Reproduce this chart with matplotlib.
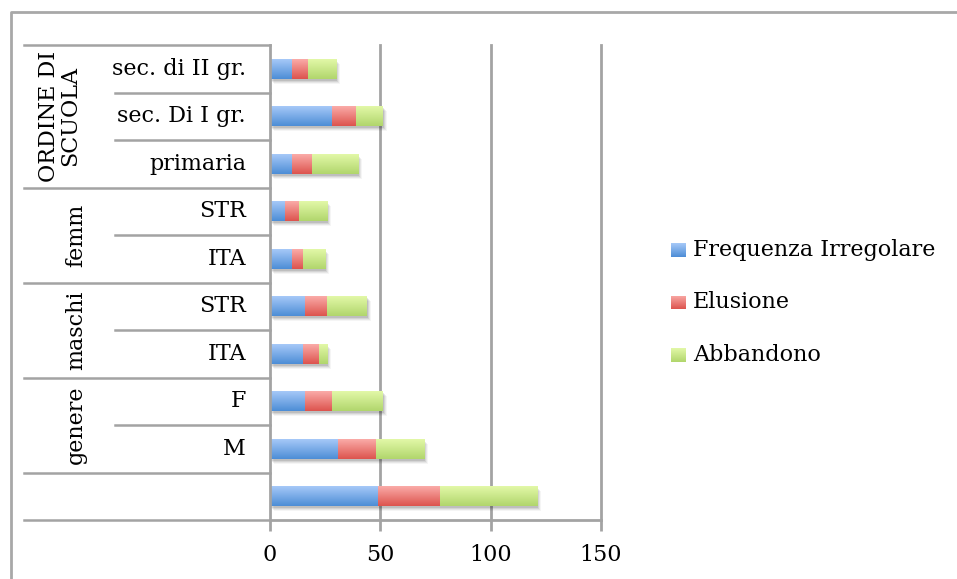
import numpy as np
import matplotlib
matplotlib.use("Agg")
import matplotlib.pyplot as plt
from matplotlib.colors import LinearSegmentedColormap
import matplotlib.transforms as mtransforms

# ---- data (bottom to top) ----
categories = ["", "M", "F", "ITA", "STR", "ITA", "STR",
              "primaria", "sec. Di I gr.", "sec. di II gr."]
groups = [("genere", 1, 2), ("maschi", 3, 4), ("femm", 5, 6),
          ("ORDINE DI\nSCUOLA", 7, 9)]
frequenza = [49, 31, 16, 15, 16, 10, 7, 10, 28, 10]
elusione = [28, 17, 12, 7, 10, 5, 6, 9, 11, 7]
abbandono = [44, 22, 23, 4, 18, 10, 13, 21, 12, 13]
series_names = ["Frequenza Irregolare", "Elusione", "Abbandono"]
xticks = [0, 50, 100, 150]

# colour gradients (top, bottom)
grad = [("#a6c9f8", "#4d8dd6"), ("#faaba8", "#dd544e"), ("#e2f8a8", "#b1d66c")]

FONT = "DejaVu Serif"
FS = 16
W, H = 957, 579
fig = plt.figure(figsize=(W / 100, H / 100), dpi=100)

def fx(px):
    return px / W

def fy(py):
    return 1 - py / H

ax = fig.add_axes([fx(270), fy(520), fx(601) - fx(270), fy(45) - fy(520)])
ax.set_xlim(0, 150)
ax.set_ylim(-0.5, len(categories) - 0.5)

GRID = "#a3a3a3"
for s in ["top", "right"]:
    ax.spines[s].set_visible(False)
for s in ["left", "bottom"]:
    ax.spines[s].set_color(GRID)
    ax.spines[s].set_linewidth(2)
ax.set_yticks([])
ax.set_xticks(xticks)
ax.set_xticklabels([str(t) for t in xticks], fontfamily=FONT, fontsize=FS)
ax.tick_params(axis="x", length=8, width=2, color=GRID, pad=9)
for t in xticks[1:]:
    ax.axvline(t, color=GRID, lw=2, zorder=0, clip_on=False)

y = np.arange(len(categories))
h = 0.42
series = [frequenza, elusione, abbandono]
lefts = np.zeros(len(categories))

# soft shadow under each full stacked bar
totals = np.sum(series, axis=0)
for k, a in enumerate([0.10, 0.08, 0.06, 0.04]):
    off = mtransforms.offset_copy(ax.transData, fig=fig, x=1 + k, y=-(2 + k), units="dots")
    ax.barh(y, totals, height=h, color="black", alpha=a, lw=0, transform=off, zorder=1)

gradimg = np.linspace(1, 0, 64).reshape(-1, 1)
for vals, (top, bot) in zip(series, grad):
    cmap = LinearSegmentedColormap.from_list("g", [bot, top])
    bars = ax.barh(y, vals, left=lefts, height=h, color="none", lw=0, zorder=3)
    for b in bars:
        x0, y0 = b.get_x(), b.get_y()
        ax.imshow(gradimg, cmap=cmap, aspect="auto",
                  extent=(x0, x0 + b.get_width(), y0, y0 + b.get_height()),
                  origin="upper", vmin=0, vmax=1, zorder=2)
    lefts = lefts + np.array(vals)
ax.set_xlim(0, 150)
ax.set_ylim(-0.5, len(categories) - 0.5)

# category table to the left of the axis
tr = mtransforms.blended_transform_factory(fig.transFigure, ax.transData)
outer = [-0.5, 0.5, 2.5, 4.5, 6.5, 9.5]
inner = [1.5, 3.5, 5.5, 7.5, 8.5]
for b in outer:
    fig.add_artist(plt.Line2D([fx(24), fx(270)], [b, b], transform=tr, color=GRID, lw=1.8))
for b in inner:
    fig.add_artist(plt.Line2D([fx(115), fx(270)], [b, b], transform=tr, color=GRID, lw=1.8))
for yi, lab in zip(y, categories):
    fig.text(fx(246), yi, lab, transform=tr, ha="right", va="center",
             fontfamily=FONT, fontsize=FS)
for name, lo, hi in groups:
    xc = 60 if "\n" in name else 76
    fig.text(fx(xc), (lo + hi) / 2, name, transform=tr, ha="center", va="center",
             rotation=90, fontfamily=FONT, fontsize=FS, multialignment="center",
             linespacing=0.95)

# outer chart frame (left and top edges)
fig.add_artist(plt.Line2D([fx(11), fx(11), fx(957)], [fy(579), fy(12), fy(12)],
                          transform=fig.transFigure, color="#a8a8a8", lw=2))

# legend keys with the same vertical gradient as the bars
for i, (name, (top, bot)) in enumerate(zip(series_names, grad)):
    cy = 250 + i * 52.5
    kax = fig.add_axes([fx(671), fy(cy + 7), fx(686) - fx(671), fy(cy - 7) - fy(cy + 7)])
    kax.imshow(gradimg, cmap=LinearSegmentedColormap.from_list("k", [bot, top]),
               aspect="auto", vmin=0, vmax=1)
    kax.axis("off")
    fig.text(fx(693), fy(cy), name, ha="left", va="center", fontfamily=FONT, fontsize=FS)

fig.savefig("out.png", dpi=100)
